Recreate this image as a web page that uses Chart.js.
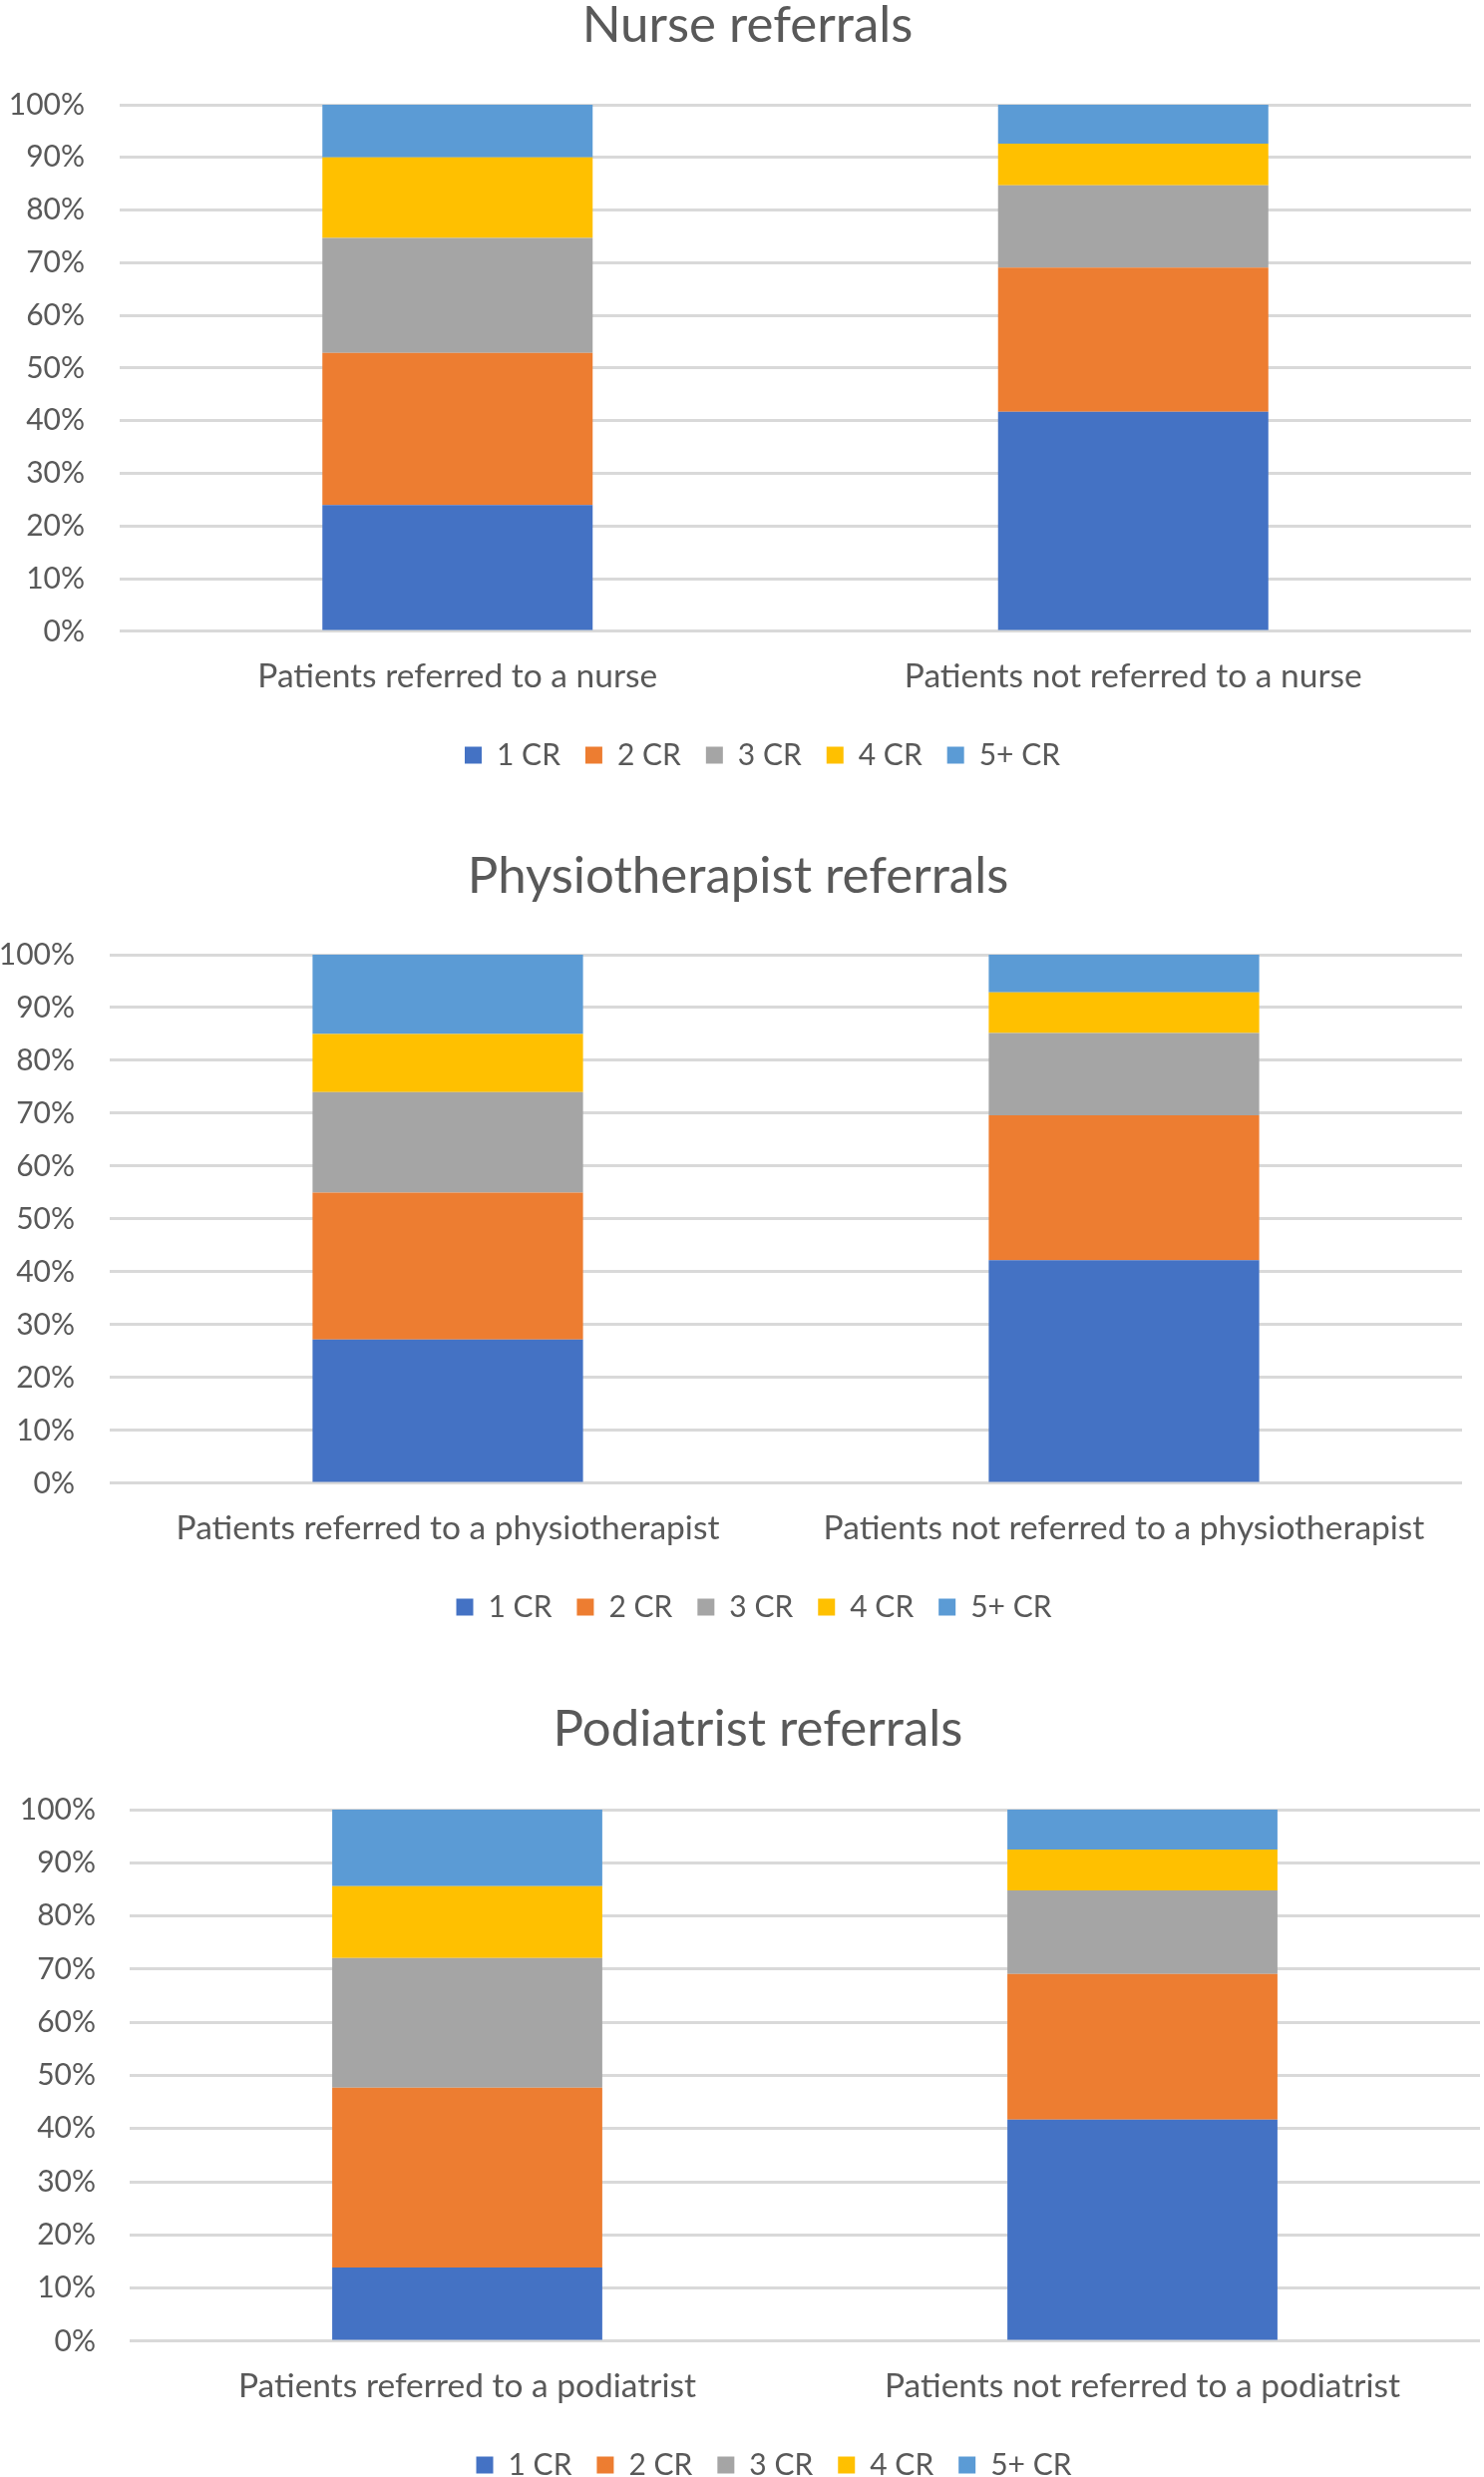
<!DOCTYPE html>
<html>
<head>
<meta charset="utf-8">
<script src="https://cdn.jsdelivr.net/npm/chart.js@4"></script>
<style>
  body { margin: 0; background: #fff; overflow: hidden; }
  #page { position: relative; width: 1488px; height: 2483px; overflow: hidden; }
  canvas { position: absolute; left: 0; }
</style>
</head>
<body>
<div id="page">
  <canvas id="nurseChart"></canvas>
  <canvas id="physioChart"></canvas>
  <canvas id="podiatristChart"></canvas>
</div>
<script>
// legend / series names
const crLabels = ['1 CR', '2 CR', '3 CR', '4 CR', '5+ CR'];
const crColors = ['#4472C4', '#ED7D31', '#A5A5A5', '#FFC000', '#5B9BD5'];

// Nurse referrals (percent per group, 1 CR .. 5+ CR)
const nurseCategories = ['Patients referred to a nurse', 'Patients not referred to a nurse'];
const nurseReferred = [24.0, 28.9, 21.8, 15.3, 10.0];
const nurseNotReferred = [41.7, 27.4, 15.6, 7.9, 7.4];

// Physiotherapist referrals
const physioCategories = ['Patients referred to a physiotherapist', 'Patients not referred to a physiotherapist'];
const physioReferred = [27.2, 27.8, 19.0, 11.0, 15.0];
const physioNotReferred = [42.2, 27.4, 15.6, 7.7, 7.1];

// Podiatrist referrals
const podiatristCategories = ['Patients referred to a podiatrist', 'Patients not referred to a podiatrist'];
const podiatristReferred = [13.9, 33.8, 24.4, 13.5, 14.4];
const podiatristNotReferred = [41.7, 27.4, 15.7, 7.7, 7.5];

const textColor = '#595959';
const fontFamily = 'Lato, "Open Sans", sans-serif';

// title and legend are centred on the whole chart box in Excel, not on the plot,
// so nudge them sideways once the layout is done
const shiftBlocks = {
    id: 'shiftBlocks',
    afterLayout(chart, args, opts) {
        const t = chart.titleBlock, l = chart.legend;
        t.left += opts.title; t.right += opts.title;
        l.left += opts.legend; l.right += opts.legend;
    }
};

function makeChart(id, title, categories, referred, notReferred, box) {
    const canvas = document.getElementById(id);
    canvas.width = 1488;
    canvas.height = box.height;
    canvas.style.top = box.top + 'px';

    const datasets = crLabels.map((name, i) => ({
        label: name,
        data: [referred[i], notReferred[i]],
        backgroundColor: crColors[i],
        borderWidth: 0,
        barPercentage: 0.4,
        categoryPercentage: 1.0
    }));

    return new Chart(canvas.getContext('2d'), {
        type: 'bar',
        data: { labels: categories, datasets: datasets },
        plugins: [shiftBlocks],
        options: {
            responsive: false,
            animation: false,
            devicePixelRatio: 1,
            layout: { padding: { left: 0, right: box.padRight, top: 0, bottom: 0 } },
            plugins: {
                shiftBlocks: { title: box.titleShift, legend: box.legendShift },
                title: {
                    display: true,
                    text: title,
                    color: textColor,
                    font: { family: fontFamily, size: 51, weight: 'normal', lineHeight: 1 },
                    padding: { top: 0, bottom: box.titleGap }
                },
                legend: {
                    position: 'bottom',
                    labels: {
                        color: textColor,
                        font: { family: fontFamily, size: 30 },
                        boxWidth: 17,
                        boxHeight: 17,
                        padding: 25
                    }
                },
                tooltip: { enabled: false }
            },
            scales: {
                x: {
                    stacked: true,
                    grid: { display: false, drawTicks: true, tickLength: 6 },
                    border: { display: false },
                    ticks: {
                        color: textColor,
                        font: { family: fontFamily, size: 33.5, lineHeight: 2.03 },
                        padding: 5,
                        maxRotation: 0
                    }
                },
                y: {
                    stacked: true,
                    min: 0,
                    max: 100,
                    afterFit: function(scale) { scale.width = box.axisWidth; },
                    grid: { color: '#D9D9D9', lineWidth: 3, drawTicks: false },
                    border: { display: false },
                    ticks: {
                        stepSize: 10,
                        color: textColor,
                        font: { family: fontFamily, size: 30 },
                        padding: box.tickPad,
                        callback: v => v + '%'
                    }
                }
            }
        }
    });
}

makeChart('nurseChart', 'Nurse referrals', nurseCategories, nurseReferred, nurseNotReferred,
    { top: 0, height: 782, padRight: 13, axisWidth: 120, tickPad: 35, titleGap: 54, titleShift: 12, legendShift: 27 });
makeChart('physioChart', 'Physiotherapist referrals', physioCategories, physioReferred, physioNotReferred,
    { top: 853, height: 783, padRight: 22, axisWidth: 110, tickPad: 35, titleGap: 53, titleShift: 7, legendShift: 23 });
makeChart('podiatristChart', 'Podiatrist referrals', podiatristCategories, podiatristReferred, podiatristNotReferred,
    { top: 1708, height: 788, padRight: 4, axisWidth: 130, tickPad: 34, titleGap: 55, titleShift: 18, legendShift: 34 });
</script>
</body>
</html>
